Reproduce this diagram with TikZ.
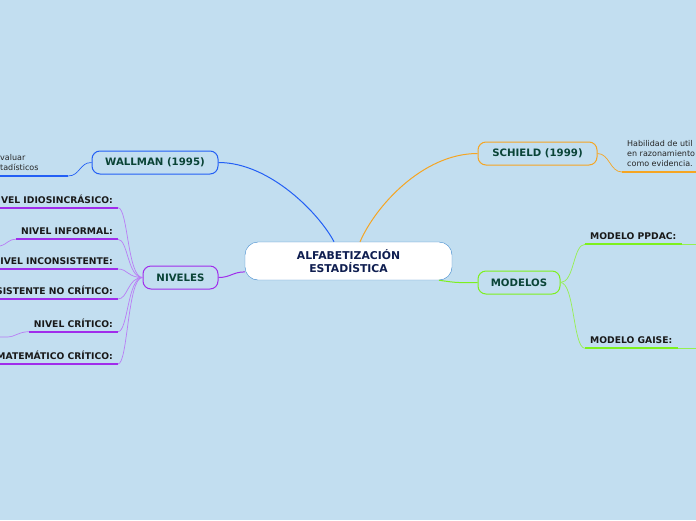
\documentclass[tikz,border=0pt]{standalone}
\usepackage{fontspec}
\setmainfont{DejaVu Sans}
\usepackage{tikz}
\usetikzlibrary{positioning}
\definecolor{fondo}{RGB}{194,222,240}
\definecolor{azul}{RGB}{35,95,245}
\definecolor{naranja}{RGB}{245,165,35}
\definecolor{verde}{RGB}{125,240,30}
\definecolor{verdecl}{RGB}{150,240,80}
\definecolor{morado}{RGB}{160,45,235}
\definecolor{moradocl}{RGB}{185,125,245}
\definecolor{bordec}{RGB}{60,135,205}
\definecolor{tverde}{RGB}{10,68,55}
\definecolor{tazul}{RGB}{15,30,80}
\tikzset{
  central/.style={draw=bordec,fill=white,rounded corners=13pt,minimum width=207pt,
    minimum height=38pt,align=center,text=tazul,font=\fontsize{10.8}{13}\selectfont\bfseries},
  rama/.style={draw=#1,line width=1pt,rounded corners=8pt,minimum height=23pt,
    text=tverde,font=\fontsize{10.2}{12}\selectfont\bfseries},
  item/.style={inner xsep=5pt,inner ysep=4pt,text=black!90,font=\fontsize{9.2}{10}\selectfont\bfseries},
  hoja/.style={inner xsep=5pt,inner ysep=5pt,align=left,text=black!85,font=\fontsize{8}{10.3}\selectfont},
  conector/.style={draw=#1,line width=1pt},
  fino/.style={draw=#1,line width=0.7pt},
  subrayado/.style={draw=#1,line width=2pt}
}
\begin{document}
\begin{tikzpicture}[x=1pt,y=-1pt]
\fill[fondo] (0,0) rectangle (696,520);
\useasboundingbox (0,0) rectangle (696,520);
\coordinate (izq) at (0,0);
\coordinate (der) at (696,0);
% centro
\node[central] (alfa) at (348.5,261) {ALFABETIZACIÓN\\ESTADÍSTICA};
% ramas
\node[rama=azul,minimum width=126pt] (wallman) at (155,162.5) {WALLMAN (1995)};
\node[rama=naranja,minimum width=119pt] (schield) at (537.5,153.5) {SCHIELD (1999)};
\node[rama=verde,minimum width=82pt] (modelos) at (519,282.5) {MODELOS};
\node[rama=morado,minimum width=75pt] (niveles) at (180.5,277.5) {NIVELES};
\draw[conector=azul] (alfa.127) .. controls +(-14,-27) and +(52,0) .. (wallman.east);
\draw[conector=naranja] (alfa.59) .. controls +(15,-35) and +(-55,0) .. (schield.west);
\draw[conector=verde] (alfa.-12) .. controls +(20,3) and +(-20,0) .. (modelos.west);
\draw[conector=morado] (alfa.186) .. controls +(-12,0) and +(12,0) .. (niveles.east);
% wallman
\node[hoja,anchor=south west,inner xsep=0pt] (wtxt) at (0,176) {valuar\\tadísticos};
\coordinate (wfin) at (68,176);
\draw[subrayado=azul] (wtxt.south west) -- (wfin);
\draw[fino=azul] (wfin) .. controls +(12,0) and +(-12,0) .. (wallman.west);
% schield
\node[hoja,anchor=south west] (stxt) at (622,172) {Habilidad de util\\en razonamiento\\como evidencia.};
\draw[subrayado=naranja] (stxt.south west) -- (stxt.south west -| der);
\draw[fino=naranja] (schield.east) .. controls +(12,0) and +(-12,0) .. (stxt.south west);
% modelos
\node[item,anchor=south west,inner ysep=4.5pt] (ppdac) at (585,244.3) {MODELO PPDAC:};
\node[item,anchor=south west,inner ysep=4.5pt] (gaise) at (585,348.3) {MODELO GAISE:};
\foreach \m in {ppdac,gaise}{
  \draw[subrayado=verde] (\m.south west) -- (\m.south east);
  \draw[fino=verdecl] (\m.south east) -- (\m.south east -| der);
  \draw[fino=verdecl] (modelos.east) .. controls +(14,0) and +(-12,0) .. (\m.south west);
}
% niveles
\node[item,anchor=south east] (n1) at (118,207.7) {VEL IDIOSINCRÁSICO:};
\node[item,anchor=south east] (n2) at (118,239.3) {NIVEL INFORMAL:};
\node[item,anchor=south east] (n3) at (118,269) {IVEL INCONSISTENTE:};
\node[item,anchor=south east] (n4) at (118,299) {SISTENTE NO CRÍTICO:};
\node[item,anchor=south east] (n5) at (118,331.7) {NIVEL CRÍTICO:};
\node[item,anchor=south east] (n6) at (118,364) {MATEMÁTICO CRÍTICO:};
\foreach \n in {n1,n3,n4,n6}
  \draw[subrayado=morado] (\n.south east) -- (\n.south east -| izq);
\foreach \n in {n2,n5}
  \draw[subrayado=morado] (\n.south west) -- (\n.south east);
\foreach \n in {n1,n2,n3,n4,n5,n6}
  \draw[fino=moradocl] (niveles.west) .. controls +(-15,0) and +(10,0) .. (\n.south east);
\coordinate (n2fin) at (0,246);
\coordinate (n5fin) at (7,337);
\draw[fino=moradocl] (n2.south west) .. controls +(-8,0) and +(8,-2) .. (n2fin);
\draw[fino=moradocl] (n5.south west) .. controls +(-10,0) and +(8,0) .. (n5fin) -- (n5fin -| izq);
\end{tikzpicture}
\end{document}
